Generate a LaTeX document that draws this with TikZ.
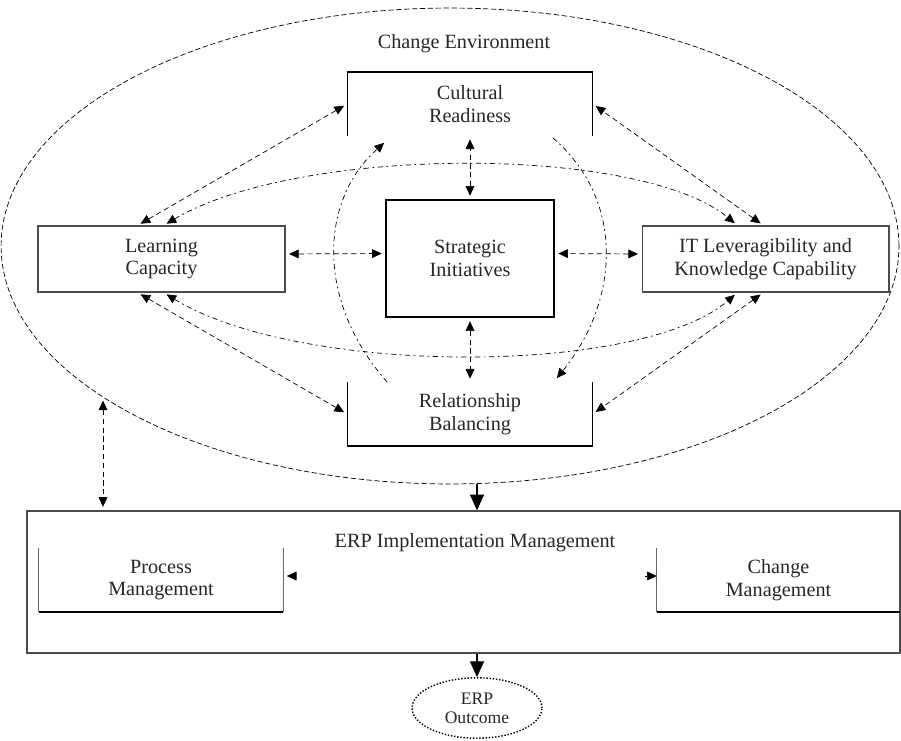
\documentclass[tikz,border=0pt]{standalone}
\usepackage{fontspec}
\setmainfont{Liberation Serif}
\usetikzlibrary{positioning,arrows.meta,shapes.geometric,calc}

\begin{document}
\begin{tikzpicture}[x=0.02cm, y=-0.02cm,
  font=\fontsize{11.5}{13}\selectfont, text=black!85,
  >={Triangle[length=5.5pt,width=5pt]},
  fullbox/.style={draw=black!70, line width=0.6pt, minimum width=4.94cm, minimum height=1.32cm, align=center},
  openbox/.style={minimum width=4.9cm, minimum height=1.26cm, align=center},
  link/.style={<->, densely dashed, thin, shorten <=2pt, shorten >=2pt},
  arcline/.style={dash pattern=on 3pt off 2pt on 1pt off 2pt, thin},
  bigarrow/.style={-{Triangle[length=9pt,width=8pt]}, thick}]
  \useasboundingbox (0,0) rectangle (901,740);

  % Change environment
  \node[draw, ellipse, dash pattern=on 3pt off 1.5pt, thin, minimum width=17.96cm, minimum height=9.52cm] (env) at (450,246) {};
  \node (envlabel) at (464,44) {Change Environment};

  % the five factors
  \node[openbox] (cr) at (470,104) {Cultural\\Readiness};
  \draw[thin] (cr.south west) -- (cr.north west);
  \draw[thin] (cr.south east) -- (cr.north east);
  \draw[line width=1.1pt] (cr.north west) -- (cr.north east);

  \node[openbox] (rb) at (470,414) {Relationship\\Balancing};
  \draw[thin] (rb.north west) -- (rb.south west);
  \draw[thin] (rb.north east) -- (rb.south east);
  \draw[line width=1.1pt] (rb.south west) -- (rb.south east);

  \node[draw, line width=0.9pt, minimum width=3.36cm, minimum height=2.34cm, align=center] (si) at (470,258.5) {Strategic\\Initiatives};
  \node[fullbox] (lc) at (161.5,259) {Learning\\Capacity};
  \node[fullbox] (it) at (765.5,259) {IT Leveragibility and\\Knowledge Capability};

  % links between the factors
  \draw[link] ($(lc.north)+(-24,0)$) -- (cr.west);
  \draw[link] ($(it.north)+(-2,0)$) -- (cr.east);
  \draw[link] ($(lc.south)+(-24,0)$) -- (rb.west);
  \draw[link] ($(it.south)+(-2,0)$) -- (rb.east);
  \draw[link] ($(lc.east)+(0,-5)$) -- ($(si.west)+(0,-5)$);
  \draw[link] ($(it.west)+(0,-5)$) -- ($(si.east)+(0,-5)$);
  \draw[link] (si.north) -- (cr.south);
  \draw[link] (si.south) -- (rb.north);
  \draw[arcline, <->, shorten <=2pt, shorten >=2pt] ($(lc.north)+(2,0)$) .. controls (300,145) and (640,145) .. ($(it.north)+(-28,0)$);
  \draw[arcline, <->, shorten <=2pt, shorten >=2pt] ($(lc.south)+(2,0)$) .. controls (300,376) and (640,376) .. ($(it.south)+(-28,0)$);
  \draw[arcline, ->] ($(rb.north west)+(40,0)$) .. controls (315,300) and (320,200) .. ($(cr.south west)+(37,7)$);
  \draw[arcline, ->] ($(cr.south east)+(-40,2)$) .. controls (625,200) and (620,300) .. ($(rb.north east)+(-36,-4)$);

  % implementation management
  \node[draw=black!70, line width=0.8pt, minimum width=17.46cm, minimum height=2.84cm] (erp) at (463.5,582) {};
  \node (erplabel) at (475,543) {ERP Implementation Management};
  \node[openbox, minimum width=4.88cm, minimum height=1.28cm] (pm) at (161,580) {Process\\Management};
  \draw[thin, black!60] (pm.north west) -- (pm.south west);
  \draw[thin, black!60] (pm.north east) -- (pm.south east);
  \draw[line width=1pt] (pm.south west) -- (pm.south east);
  \node[openbox, minimum width=4.86cm, minimum height=1.28cm] (cm) at (778.5,580) {Change\\Management};
  \draw[thin, black!60] (cm.north west) -- (cm.south west);
  \draw[line width=1pt] (cm.south west) -- (cm.south east);
  \coordinate (pmtail) at (295,576);
  \coordinate (cmtail) at (645,576);
  \draw[->, shorten >=2pt] (pmtail) -- (pmtail -| pm.east);
  \draw[->, shorten >=0pt] (cmtail) -- (cmtail -| cm.west);

  % environment to management
  \coordinate (envpt) at (103,397);
  \coordinate (envbot) at (477,484);
  \draw[link] (envpt) -- (envpt |- erp.north);
  \draw[bigarrow] (envbot) -- (envbot |- erp.north);

  % outcome
  \node[draw, ellipse, densely dotted, thick, minimum width=2.6cm, minimum height=1.2cm, align=center, font=\fontsize{10}{11}\selectfont] (out) at (477,708) {ERP\\Outcome};
  \draw[bigarrow] (erp.south -| out.north) -- (out.north);
\end{tikzpicture}
\end{document}
